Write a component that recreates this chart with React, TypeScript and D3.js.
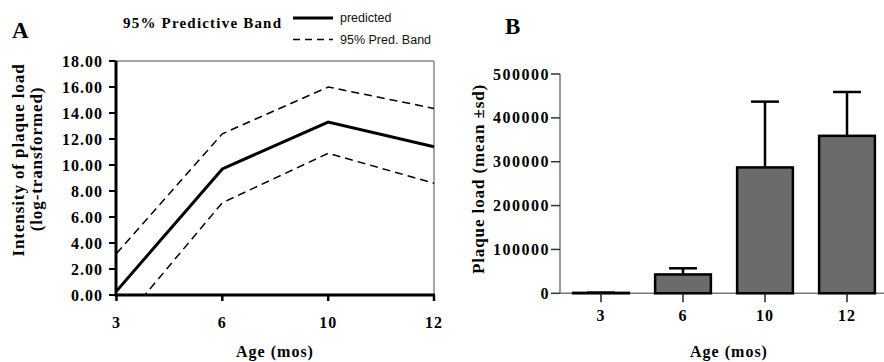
import React from 'react';
import * as d3 from 'd3';

// Panel A: log-transformed intensity by age
const ages = ['3', '6', '10', '12'];
const predicted = [0.3, 9.7, 13.3, 11.4];
const upperBand = [3.2, 12.4, 16.0, 14.35];
const lowerBand = [-2.6, 7.1, 10.9, 8.6];
const yTicksA = [0, 2, 4, 6, 8, 10, 12, 14, 16, 18];

// Panel B: plaque load mean ± sd
const plaqueMean = [1000, 43000, 287000, 359000];
const plaqueSd = [500, 14000, 150000, 100000];
const yTicksB = [0, 100000, 200000, 300000, 400000, 500000];

const serif = '"Liberation Serif", "Times New Roman", serif';
const sans = '"Liberation Sans", Arial, sans-serif';

const App = () => {
  // ----- panel A scales -----
  const xA = d3.scalePoint<string>().domain(ages).range([116.5, 434]);
  const yA = d3.scaleLinear().domain([0, 18]).range([295, 61]);
  const line = d3.line<number>()
    .x((_, i) => xA(ages[i]) as number)
    .y(d => yA(d));

  // ----- panel B scales -----
  const xB = d3.scaleBand<string>().domain(ages).range([560, 888]).paddingInner(0.32).paddingOuter(0.16);
  const yB = d3.scaleLinear().domain([0, 500000]).range([293.3, 74]);
  const bw = xB.bandwidth();

  const tickStyle = { fontFamily: serif, fontWeight: 700, fontSize: 16, letterSpacing: 1 } as const;
  const labelStyle = { fontFamily: serif, fontWeight: 700, fontSize: 17, letterSpacing: 0.9 } as const;

  return (
    <svg width={884} height={362} style={{ position: 'absolute', left: 0, top: 0, background: '#fff' }}>
      <defs>
        <clipPath id="plotA">
          <rect x={116} y={55} width={320} height={240} />
        </clipPath>
      </defs>

      {/* ===== Panel A ===== */}
      <text x={12} y={38} fontFamily={serif} fontWeight={700} fontSize={23}>A</text>
      <text x={123} y={28} fontFamily={serif} fontWeight={700} fontSize={15} letterSpacing={1.2}>95% Predictive Band</text>

      {/* legend */}
      <line x1={293} x2={333} y1={18} y2={18} stroke="#000" strokeWidth={3} />
      <text x={340} y={22} fontFamily={sans} fontSize={12.5} fill="#111">predicted</text>
      <line x1={293} x2={333} y1={39.5} y2={39.5} stroke="#000" strokeWidth={1.5} strokeDasharray="7 5" />
      <text x={340} y={44} fontFamily={sans} fontSize={12.5} fill="#111">95% Pred. Band</text>

      {/* plot frame (top/right gray) */}
      <line x1={116} x2={434} y1={yA(18)} y2={yA(18)} stroke="#888" strokeWidth={1.5} />
      <line x1={434} x2={434} y1={yA(18)} y2={yA(0)} stroke="#888" strokeWidth={1.5} />

      {/* lines */}
      <g clipPath="url(#plotA)">
        <path d={line(upperBand) ?? ''} fill="none" stroke="#000" strokeWidth={1.5} strokeDasharray="8 5" />
        <path d={line(lowerBand) ?? ''} fill="none" stroke="#000" strokeWidth={1.5} strokeDasharray="8 5" />
        <path d={line(predicted) ?? ''} fill="none" stroke="#000" strokeWidth={3} />
      </g>

      {/* y axis A */}
      <line x1={116} x2={116} y1={yA(18)} y2={yA(0) + 1.5} stroke="#000" strokeWidth={3} />
      {yTicksA.map(t => (
        <g key={t}>
          <line x1={109} x2={116} y1={yA(t)} y2={yA(t)} stroke="#000" strokeWidth={2} />
          <text x={103} y={yA(t) + 5.5} textAnchor="end" {...tickStyle}>{t.toFixed(2)}</text>
        </g>
      ))}

      {/* x axis A */}
      <line x1={115} x2={435} y1={yA(0)} y2={yA(0)} stroke="#000" strokeWidth={3} />
      {ages.map(a => (
        <g key={a}>
          <line x1={xA(a)} x2={xA(a)} y1={yA(0)} y2={yA(0) + 6} stroke="#000" strokeWidth={2.5} />
          <text x={xA(a)} y={328} textAnchor="middle" {...tickStyle}>{a}</text>
        </g>
      ))}
      <text x={275} y={357} textAnchor="middle" {...tickStyle}>Age (mos)</text>

      <text transform="translate(24,160) rotate(-90)" textAnchor="middle" {...labelStyle}>Intensity of plaque load</text>
      <text transform="translate(42,159) rotate(-90)" textAnchor="middle" {...labelStyle}>(log-transformed)</text>

      {/* ===== Panel B ===== */}
      <text x={505} y={34} fontFamily={serif} fontWeight={700} fontSize={23}>B</text>

      {/* axes B */}
      <line x1={560} x2={560} y1={yB(500000)} y2={yB(0)} stroke="#777" strokeWidth={1.5} />
      <line x1={560} x2={884} y1={yB(0)} y2={yB(0)} stroke="#777" strokeWidth={1.5} />
      {yTicksB.map(t => (
        <g key={t}>
          <line x1={551} x2={560} y1={yB(t)} y2={yB(t)} stroke="#333" strokeWidth={1.5} />
          <text x={550} y={yB(t) + 5.5} textAnchor="end" {...tickStyle} letterSpacing={1.5}>{t}</text>
        </g>
      ))}

      {/* bars + error bars */}
      {ages.map((a, i) => {
        const x0 = xB(a) as number;
        const cx = x0 + bw / 2;
        const top = yB(plaqueMean[i]);
        const errTop = yB(plaqueMean[i] + plaqueSd[i]);
        return (
          <g key={a}>
            <line x1={cx} x2={cx} y1={top} y2={errTop} stroke="#000" strokeWidth={2.5} />
            <line x1={cx - bw / 4} x2={cx + bw / 4} y1={errTop} y2={errTop} stroke="#000" strokeWidth={2.5} />
            <rect x={x0} y={top} width={bw} height={yB(0) - top} fill="#6b6b6b" stroke="#000" strokeWidth={2.5} />
            <line x1={cx} x2={cx} y1={yB(0)} y2={yB(0) + 9} stroke="#222" strokeWidth={1.5} />
            <text x={cx} y={321} textAnchor="middle" {...tickStyle}>{a}</text>
          </g>
        );
      })}
      <text x={729} y={357} textAnchor="middle" {...tickStyle}>Age (mos)</text>
      <text transform="translate(484,179) rotate(-90)" textAnchor="middle" {...labelStyle}>Plaque load (mean ±sd)</text>
    </svg>
  );
};

export default App;
